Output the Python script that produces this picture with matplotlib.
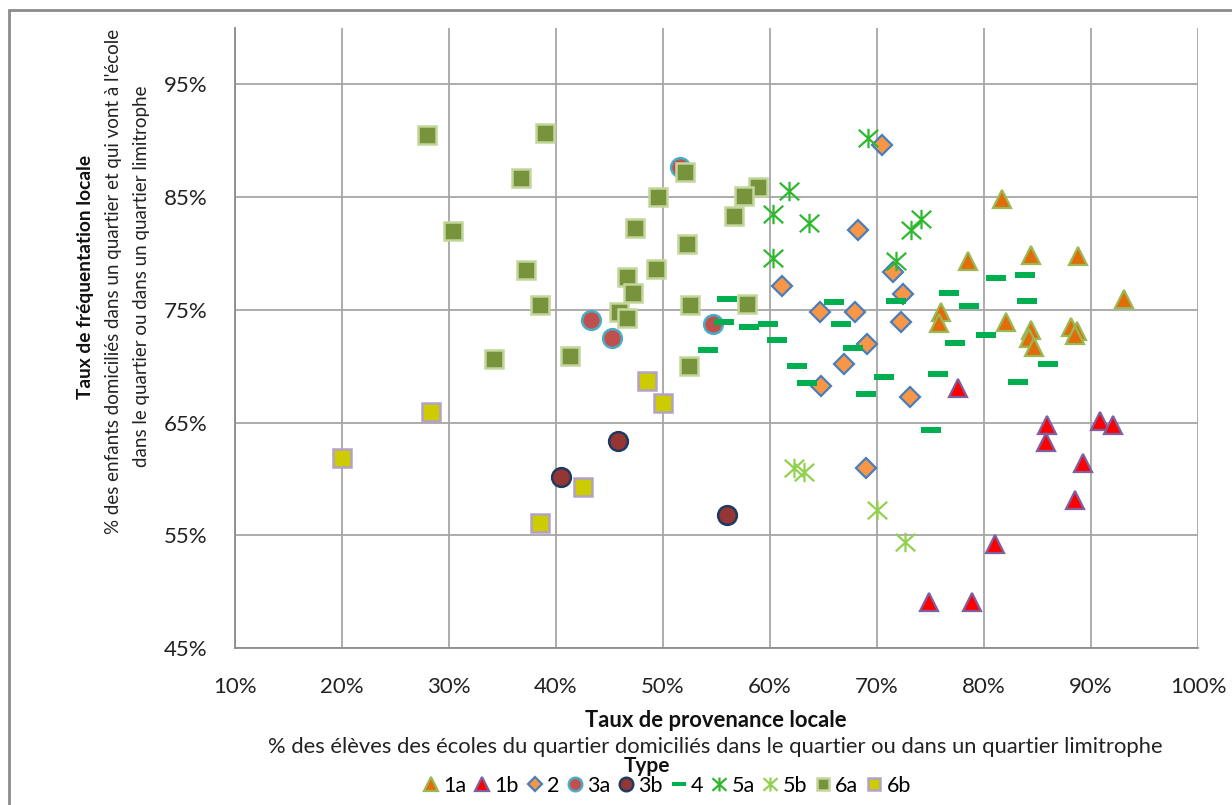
import matplotlib
matplotlib.use("Agg")
import matplotlib.pyplot as plt
from matplotlib.path import Path
from matplotlib.patches import Rectangle

plt.rcParams['font.family'] = ['Lato', 'DejaVu Sans']

# ---------------- data (percent) ----------------
x_1a = [81.7, 84.4, 88.75, 78.5, 93.1, 76.0, 75.8, 82.1, 84.4, 84.2, 84.7, 88.1, 88.7, 88.5]
y_1a = [84.8, 79.9, 79.8, 79.3, 75.95, 74.85, 73.8, 73.9, 73.2, 72.5, 71.7, 73.5, 73.1, 72.8]

x_1b = [77.6, 85.9, 90.8, 92.1, 85.8, 89.25, 88.5, 81.0, 78.9, 74.9]
y_1b = [68.05, 64.8, 65.1, 64.8, 63.3, 61.45, 58.1, 54.2, 49.1, 49.1]

x_2 = [70.5, 68.2, 61.1, 71.5, 72.4, 64.7, 67.9, 72.2, 69.1, 66.9, 64.8, 73.1, 69.0]
y_2 = [89.6, 82.1, 77.1, 78.35, 76.4, 74.8, 74.8, 73.9, 72.0, 70.2, 68.2, 67.3, 61.0]

x_3a = [51.6, 43.3, 45.2, 54.7]
y_3a = [87.7, 74.1, 72.5, 73.7]

x_3b = [45.75, 40.5, 56.0]
y_3b = [63.4, 60.2, 56.8]

x_4 = [56.0, 55.7, 58.0, 59.8, 60.7, 54.2, 62.5, 63.5, 66.0, 66.6, 67.8, 69.0, 81.1,
       83.8, 76.7, 78.6, 84.0, 71.8, 80.2, 77.3, 86.0, 70.7, 75.7, 83.2, 75.0]
y_4 = [76.0, 73.9, 73.5, 73.7, 72.3, 71.45, 70.0, 68.55, 75.7, 73.7, 71.65, 67.5, 77.8,
       78.1, 76.5, 75.3, 75.8, 75.8, 72.8, 72.1, 70.2, 69.0, 69.35, 68.6, 64.3]

x_5a = [69.2, 61.8, 60.3, 63.6, 60.3, 74.1, 73.2, 71.8]
y_5a = [90.2, 85.5, 83.5, 82.7, 79.6, 83.1, 82.1, 79.3]

x_5b = [62.2, 63.2, 70.0, 72.65]
y_5b = [61.0, 60.6, 57.2, 54.4]

x_6a = [27.9, 39.0, 36.7, 30.35, 37.2, 38.5, 34.2, 41.3, 52.1, 49.5, 58.9, 57.6, 56.6,
        47.4, 52.2, 49.3, 46.6, 47.2, 45.9, 46.6, 52.5, 57.85, 52.4]
y_6a = [90.5, 90.7, 86.65, 82.0, 78.55, 75.4, 70.65, 70.9, 87.2, 85.0, 85.9, 85.1, 83.3,
        82.3, 80.8, 78.6, 77.9, 76.5, 74.8, 74.3, 75.4, 75.5, 70.05]

x_6b = [20.0, 28.3, 38.5, 42.5, 48.5, 50.0]
y_6b = [61.85, 65.9, 56.1, 59.3, 68.7, 66.7]

x_ticks = [10, 20, 30, 40, 50, 60, 70, 80, 90, 100]
y_ticks = [45, 55, 65, 75, 85, 95]

# ---------------- custom markers ----------------
asterisk = Path([(0, -1), (0, 1), (-1, -0.9), (1, 0.9), (-1, 0.9), (1, -0.9)],
                [Path.MOVETO, Path.LINETO, Path.MOVETO, Path.LINETO, Path.MOVETO, Path.LINETO])
dash = Path([(-1, -0.3), (1, -0.3), (1, 0.3), (-1, 0.3), (-1, -0.3)],
            [Path.MOVETO, Path.LINETO, Path.LINETO, Path.LINETO, Path.CLOSEPOLY])

W, H = 1232, 805
fig = plt.figure(figsize=(W / 100, H / 100), dpi=100)
L, R, T, B = 235, 1198, 28, 648
ax = fig.add_axes([L / W, 1 - B / H, (R - L) / W, (B - T) / H])

series = [
    ("1a", x_1a, y_1a, dict(marker='^', ms=13.5, mfc='#E36C0A', mec='#98B954', mew=1.6)),
    ("1b", x_1b, y_1b, dict(marker='^', ms=13.5, mfc='#FF0000', mec='#7F5FA0', mew=1.6)),
    ("2", x_2, y_2, dict(marker='D', ms=9.8, mfc='#F79646', mec='#4A7EBB', mew=1.6)),
    ("3a", x_3a, y_3a, dict(marker='o', ms=13.5, mfc='#C0504D', mec='#4BACC6', mew=1.8)),
    ("3b", x_3b, y_3b, dict(marker='o', ms=13.5, mfc='#943634', mec='#1F3A60', mew=1.8)),
    ("4", x_4, y_4, dict(marker=dash, ms=14.5, mfc='#00B050', mec='none', mew=0)),
    ("5a", x_5a, y_5a, dict(marker=asterisk, ms=14, mfc='none', mec='#2EB82E', mew=1.6)),
    ("5b", x_5b, y_5b, dict(marker=asterisk, ms=14, mfc='none', mec='#92D050', mew=1.6)),
    ("6a", x_6a, y_6a, dict(marker='s', ms=12.6, mfc='#77933C', mec='#C3D69B', mew=1.8)),
    ("6b", x_6b, y_6b, dict(marker='s', ms=12.6, mfc='#CCCC00', mec='#B3A2C7', mew=1.8)),
]

handles = []
for i, (name, xs, ys, st) in enumerate(series):
    ln, = ax.plot(xs, ys, linestyle='none', zorder=3 + i, label=name, **st)
    handles.append(ln)

ax.set_xlim(10, 100)
ax.set_ylim(45, 100)
ax.set_xticks(x_ticks)
ax.set_yticks(y_ticks)
ax.set_xticklabels([f"{v}%" for v in x_ticks])
ax.set_yticklabels([f"{v}%" for v in y_ticks])
ax.tick_params(axis='both', length=0, labelsize=16, colors='#222222')
ax.tick_params(axis='x', pad=21)
ax.tick_params(axis='y', pad=20)
ax.grid(True, color='#A6A6A6', linewidth=1.3, zorder=0)
ax.set_axisbelow(True)
for s in ['top', 'right']:
    ax.spines[s].set_visible(False)
for s in ['left', 'bottom']:
    ax.spines[s].set_color('#8C8C8C')
    ax.spines[s].set_linewidth(1.3)

# axis titles
fig.text(716 / W, 1 - 720 / H, "Taux de provenance locale", ha='center', va='center',
         fontsize=15.8, fontweight='bold', color='#111111')
fig.text(715 / W, 1 - 747 / H,
         "% des élèves des écoles du quartier domiciliés dans le quartier ou dans un quartier limitrophe",
         ha='center', va='center', fontsize=15.8, color='#222222')

fig.text(85 / W, 1 - 277 / H, "Taux de fréquentation locale", ha='center', va='center',
         rotation=90, fontsize=13.8, fontweight='bold', color='#111111')
fig.text(114 / W, 1 - 281 / H,
         "% des enfants domiciliés dans un quartier et qui vont à l'école",
         ha='center', va='center', rotation=90, fontsize=13.5, color='#222222')
fig.text(141 / W, 1 - 276 / H, "dans le quartier ou dans un quartier limitrophe",
         ha='center', va='center', rotation=90, fontsize=13.5, color='#222222')

# legend
fig.text(647 / W, 1 - 766 / H, "Type", ha='center', va='center', fontsize=15,
         fontweight='bold', color='#111111')
leg = fig.legend(handles=handles, loc='center', bbox_to_anchor=(668 / W, 1 - 786 / H),
                 ncol=10, frameon=False, fontsize=15.5, markerscale=0.72,
                 handlelength=0.55, handletextpad=0.3, columnspacing=0.45,
                 borderpad=0, borderaxespad=0)

# chart outer frame
fig.add_artist(Rectangle((9 / W, -0.1), 2, 1 - 10 / H + 0.1, transform=fig.transFigure,
                         fill=False, edgecolor='#8C8C8C', linewidth=2))

fig.savefig("out.png", dpi=100, facecolor='white')
